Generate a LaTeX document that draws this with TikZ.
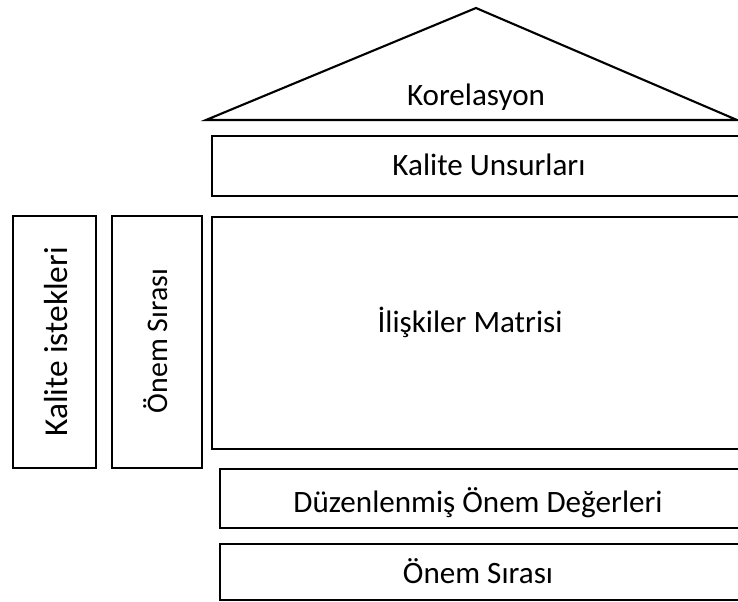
\documentclass[tikz,border=0pt]{standalone}
\usepackage{fontspec}
\setmainfont{Carlito}

\begin{document}
\begin{tikzpicture}[x=0.02cm, y=-0.02cm]
	\tikzset{partbox/.style={draw=black, line width=1.2pt}, txt/.style={anchor=base, inner sep=0pt, font=\fontsize{17.7}{21}\selectfont}}
	\useasboundingbox (0,0) rectangle (738,602);
	\clip (0,0) rectangle (738,602);
	
	% Roof
	\coordinate (apex) at (476,8);
	\coordinate (eaveL) at (206,120);
	\coordinate (eaveR) at (737,120);
	\draw[partbox] (eaveL) -- (apex) -- (eaveR) -- cycle;
	\node[txt] (korelasyon) at (476,105) {Korelasyon};
	
	% Upper rows
	\draw[partbox] (212,136) rectangle (760,196);
	\node[txt] (unsurlar) at (489,175) {Kalite Unsurları};
	\draw[partbox] (212,217) rectangle (760,449);
	\node[txt] (matris) at (470,332) {İlişkiler Matrisi};
	
	% Left columns
	\draw[partbox] (13,216) rectangle (96,468);
	\node[txt, rotate=90, font=\fontsize{19}{22}\selectfont] (istekler) at (68,342) {Kalite istekleri};
	\draw[partbox] (112,216) rectangle (202,468);
	\node[txt, rotate=90, font=\fontsize{17}{20}\selectfont] (siraSol) at (167,341) {Önem Sırası};
	
	% Lower rows
	\draw[partbox] (220,469) rectangle (760,528);
	\node[txt] (duzen) at (478,512) {Düzenlenmiş Önem Değerleri};
	\draw[partbox] (220,544) rectangle (760,600);
	\node[txt] (siraAlt) at (478,583) {Önem Sırası};
\end{tikzpicture}
\end{document}
